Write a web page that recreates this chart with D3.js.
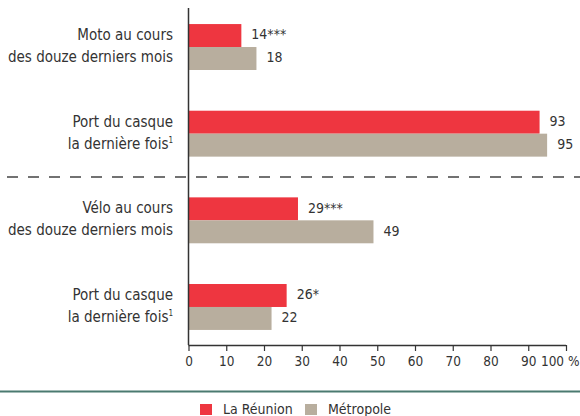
<!DOCTYPE html>
<html>
<head>
<meta charset="utf-8">
<script src="https://cdn.jsdelivr.net/npm/d3@7"></script>
<style>
  body { margin: 0; background: #fff; }
  svg { display: block; }
  text { font-family: 'Liberation Sans Narrow', 'DejaVu Sans Condensed', 'Roboto', sans-serif; fill: #333; }
</style>
</head>
<body>
<div id="chart"></div>
<script>
let w = 580,
    h = 416

// data
let categories = ['moto', 'casqueMoto', 'velo', 'casqueVelo']
let labelLines = [
    ['Moto au cours', 'des douze derniers mois'],
    ['Port du casque', 'la dernière fois'],
    ['Vélo au cours', 'des douze derniers mois'],
    ['Port du casque', 'la dernière fois']
]
let footnoteMarks = ['', '1', '', '1']
let series = ['La Réunion', 'Métropole']
let reunion = [14, 93, 29, 26]
let reunionSig = ['***', '', '***', '*']
let metropole = [18, 95, 49, 22]
let metropoleSig = ['', '', '', '']
let xTicks = [0, 10, 20, 30, 40, 50, 60, 70, 80, 90, 100]

let colors = ['#ee3640', '#b8ae9e']

let svg = d3.select('#chart')
    .append('svg')
    .attr('width', w)
    .attr('height', h)

let x = d3.scaleLinear()
    .domain([0, 100])
    .range([188.5, 566])

let y = d3.scaleBand()
    .domain(categories)
    .range([3.7, 350.3])
    .paddingInner(0.47)
    .paddingOuter(0.235)

let ySub = d3.scaleBand()
    .domain(series)
    .range([0, y.bandwidth()])

let plotTop = 8,
    plotBottom = 345

// bars
let values = [reunion, metropole]
let sigs = [reunionSig, metropoleSig]
series.forEach((s, si) => {
    let g = svg.append('g')
    g.selectAll('rect')
        .data(values[si])
        .enter()
        .append('rect')
        .attr('x', x(0))
        .attr('y', (d, i) => y(categories[i]) + ySub(s))
        .attr('width', d => x(d) - x(0))
        .attr('height', ySub.bandwidth())
        .attr('fill', colors[si])

    g.selectAll('text')
        .data(values[si])
        .enter()
        .append('text')
        .attr('x', d => x(d) + 10)
        .attr('y', (d, i) => y(categories[i]) + ySub(s) + ySub.bandwidth() / 2 - 1)
        .attr('dy', '0.35em')
        .attr('font-size', 14)
        .text((d, i) => d + sigs[si][i])
})

// category labels
categories.forEach((c, i) => {
    let mid = y(c) + y.bandwidth() / 2
    let t = svg.append('text')
        .attr('text-anchor', 'end')
        .attr('font-size', 15)
    t.append('tspan')
        .attr('x', 173)
        .attr('y', mid - 7)
        .text(labelLines[i][0])
    t.append('tspan')
        .attr('x', 173)
        .attr('y', mid + 15)
        .text(labelLines[i][1])
    if (footnoteMarks[i]) {
        t.append('tspan')
            .attr('font-size', 8)
            .attr('dy', -6)
            .text(footnoteMarks[i])
    }
})

// dashed separator between moto and velo
let sepY = (y('casqueMoto') + y.bandwidth() + y('velo')) / 2
svg.append('line')
    .attr('x1', 7)
    .attr('x2', w)
    .attr('y1', sepY)
    .attr('y2', sepY)
    .attr('stroke', '#444')
    .attr('stroke-width', 1.3)
    .attr('stroke-dasharray', '11,10')

// vertical axis line
svg.append('line')
    .attr('x1', x(0))
    .attr('x2', x(0))
    .attr('y1', plotTop)
    .attr('y2', plotBottom)
    .attr('stroke', '#333')
    .attr('stroke-width', 1.5)

// x axis
let xAxis = d3.axisBottom(x)
    .tickValues(xTicks)
    .tickSize(6)
    .tickPadding(5)
    .tickFormat(d => d === 100 ? '100 %' : d)

let gx = svg.append('g')
    .attr('transform', `translate(0,${plotBottom})`)
    .call(xAxis)
gx.select('.domain').attr('stroke', '#333').attr('stroke-width', 1.5)
    .attr('d', `M${x(0)},0.5H${x(100)}`)
gx.selectAll('.tick line').attr('stroke', '#333').attr('stroke-width', 1.2)
gx.selectAll('.tick text')
    .attr('font-size', 13.5)
    .attr('font-family', null)
    .attr('fill', '#333')
gx.selectAll('.tick text').filter(d => d === 100)
    .attr('text-anchor', 'end')
    .attr('x', w - 1 - x(100))

// bottom rule
svg.append('line')
    .attr('x1', 0)
    .attr('x2', w)
    .attr('y1', 391.5)
    .attr('y2', 391.5)
    .attr('stroke', '#4b7a70')
    .attr('stroke-width', 2)

// legend
let legendX = [200, 305]
series.forEach((s, i) => {
    svg.append('rect')
        .attr('x', legendX[i])
        .attr('y', 404)
        .attr('width', 12)
        .attr('height', 11)
        .attr('fill', colors[i])
    svg.append('text')
        .attr('x', legendX[i] + 23)
        .attr('y', 414)
        .attr('font-size', 14)
        .text(s)
})
</script>
</body>
</html>
